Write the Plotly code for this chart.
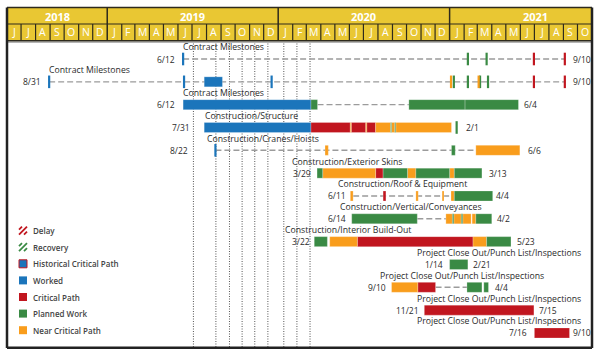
import plotly.graph_objects as go
from datetime import datetime

# ---------------- data ----------------
X_START = "2018-06-01"
X_END = "2021-11-01"

ROW_NAMES = [
    "Contract Milestones", "Contract Milestones", "Contract Milestones",
    "Construction/Structure", "Construction/Cranes/Hoists", "Construction/Exterior Skins",
    "Construction/Roof & Equipment", "Construction/Vertical/Conveyances",
    "Construction/Interior Build-Out",
    "Project Close Out/Punch List/Inspections", "Project Close Out/Punch List/Inspections",
    "Project Close Out/Punch List/Inspections", "Project Close Out/Punch List/Inspections",
]
START_LABELS = ["6/12", "8/31", "6/12", "7/31", "8/22", "3/29", "6/11", "6/14", "3/22",
                "1/14", "9/10", "11/21", "7/16"]
END_LABELS = ["9/10", "9/10", "6/4", "2/1", "6/6", "3/13", "4/4", "4/2", "5/23",
              "2/21", "4/4", "7/15", "9/10"]

# bar segments: (row, start, end)
WORKED = [
    (2, "2019-07-27", "2019-09-04"),
    (3, "2019-06-12", "2020-03-11"),
    (4, "2019-07-27", "2020-03-11"),
]
CRITICAL = [
    (4, "2020-03-11", "2020-06-03"),
    (4, "2020-06-05", "2020-07-06"),
    (4, "2020-07-08", "2020-07-27"),
    (6, "2020-07-27", "2020-08-12"),
    (7, "2020-08-12", "2020-08-18"),
    (9, "2020-06-18", "2021-02-20"),
    (11, "2020-10-25", "2020-12-02"),
    (12, "2020-11-08", "2021-06-30"),
    (13, "2021-07-01", "2021-09-14"),
]
NEAR_CRITICAL = [
    (4, "2020-06-03", "2020-06-05"),
    (4, "2020-07-06", "2020-07-08"),
    (4, "2020-07-27", "2020-08-28"),
    (4, "2020-08-30", "2020-09-06"),
    (4, "2020-09-08", "2021-01-05"),
    (5, "2020-04-10", "2020-04-17"),
    (5, "2021-02-26", "2021-05-31"),
    (6, "2020-04-05", "2020-07-27"),
    (6, "2020-10-03", "2020-10-21"),
    (6, "2021-01-01", "2021-01-11"),
    (7, "2020-06-03", "2020-06-09"),
    (7, "2020-10-21", "2020-10-26"),
    (7, "2020-12-16", "2020-12-20"),
    (7, "2021-01-04", "2021-01-11"),
    (8, "2020-12-24", "2021-01-07"),
    (8, "2021-01-10", "2021-01-26"),
    (8, "2021-01-29", "2021-02-16"),
    (8, "2021-02-18", "2021-02-26"),
    (9, "2020-04-20", "2020-06-18"),
    (9, "2021-02-20", "2021-03-21"),
    (11, "2020-08-30", "2020-10-25"),
]
PLANNED = [
    (3, "2020-03-11", "2020-03-25"),
    (3, "2020-10-06", "2021-02-03"),
    (3, "2021-02-03", "2021-05-28"),
    (4, "2020-08-28", "2020-08-30"),
    (4, "2020-09-06", "2020-09-08"),
    (5, "2021-01-05", "2021-01-13"),
    (6, "2020-03-24", "2020-04-05"),
    (6, "2020-08-12", "2020-10-03"),
    (6, "2020-10-21", "2021-01-01"),
    (6, "2021-01-11", "2021-03-11"),
    (7, "2021-01-11", "2021-04-03"),
    (8, "2020-06-06", "2020-10-24"),
    (8, "2021-01-07", "2021-01-10"),
    (8, "2021-01-26", "2021-01-29"),
    (8, "2021-02-26", "2021-04-01"),
    (9, "2020-03-18", "2020-04-15"),
    (9, "2021-03-21", "2021-05-12"),
    (10, "2021-01-01", "2021-02-09"),
    (11, "2021-02-07", "2021-03-11"),
    (11, "2021-03-15", "2021-03-25"),
]

# milestones: (row, date)
MS_WORKED = [(1, "2019-06-12"), (2, "2018-08-30"), (2, "2019-06-14"), (2, "2019-12-18"), (5, "2019-08-20")]
MS_PLANNED = [(1, "2021-02-09"), (1, "2021-03-21"), (2, "2021-01-10"), (2, "2021-02-09"),
              (2, "2021-03-07"), (2, "2021-03-24"), (4, "2021-01-16")]
MS_NEAR = [(2, "2021-01-04"), (2, "2021-03-04")]
MS_CRITICAL = [(1, "2021-06-30"), (1, "2021-09-04"), (2, "2021-06-30"), (2, "2021-09-04")]

# dashed links: (row, from, to)
LINKS = [
    (1, "2019-06-12", "2021-09-04"),
    (2, "2018-08-30", "2021-09-04"),
    (3, "2020-03-25", "2020-10-06"),
    (5, "2019-08-20", "2021-02-26"),
    (7, "2020-06-09", "2021-01-04"),
    (8, "2020-10-24", "2020-12-24"),
    (11, "2020-12-02", "2021-02-07"),
]

UPDATE_DATES = ["2019-07-04", "2019-08-21", "2019-09-19", "2019-10-16", "2019-11-12",
                "2019-12-10", "2020-01-13", "2020-02-10", "2020-03-09"]

LEGEND_NAMES = ["Delay", "Recovery", "Historical Critical Path", "Worked",
                "Critical Path", "Planned Work", "Near Critical Path"]
MONTH_LETTERS = ["J", "F", "M", "A", "M", "J", "J", "A", "S", "O", "N", "D"]
YEARS = [2018, 2019, 2020, 2021]

# ---------------- layout helpers ----------------
W, H = 600, 353
ML, MR, MT, MB = 7, 8, 7, 5
PW = W - ML - MR
PH = H - MT - MB


def px(x):
    return (x - ML) / PW


def py(y):
    return (H - MB - y) / PH


ROW0_PX = 59.0
ROW_STEP = 22.83
Y_TOP = 1 + (MT - ROW0_PX) / ROW_STEP
Y_BOT = 1 + (H - MB - ROW0_PX) / ROW_STEP
BAR_W = 10 / ROW_STEP

BLUE = "#1b75bb"
RED = "#c1161f"
GREEN = "#3a8a44"
ORANGE = "#f99d1c"
YELLOW = "#e9c733"
DARK = "#2e2a1c"
TXT = "#2b2b2b"
FONT = "Open Sans"

# label pixel anchors (layout only)
START_LABEL_PX = [175, 40.7, 175, 190, 188.3, 311, 345.7, 346, 310, 443.3, 386, 419.3, 526.7]
END_LABEL_PX = [572.7, 572.7, 524.3, 466, 527.7, 489.3, 495.5, 496.7, 516.7, 473.3, 495, 539.3, 573.3]
TITLE_PX = [183.3, 49, 183.3, 204.7, 207.3, 291.7, 338.3, 340, 285, 416.7, 380, 416.7, 416.7]

fig = go.Figure()


def dt(s):
    return datetime.strptime(s, "%Y-%m-%d")


shapes = []
ann = []

# update (data date) dotted lines
for d in UPDATE_DATES:
    shapes.append(dict(type="line", xref="x", yref="paper", x0=d, x1=d, y0=py(347), y1=py(42),
                       line=dict(color="#555555", width=1, dash="1px,1.5px"), layer="below"))

# dashed links (below the bars)
for r, a, b in LINKS:
    shapes.append(dict(type="line", xref="x", yref="y", x0=a, x1=b, y0=r, y1=r,
                       line=dict(color="#9b9b9b", width=1.4, dash="6px,3px"), layer="below"))


def add_bars(segs, color, name):
    fig.add_trace(go.Bar(
        orientation="h",
        y=[r for r, _, _ in segs],
        base=[s for _, s, _ in segs],
        x=[(dt(e) - dt(s)).total_seconds() * 1000 for _, s, e in segs],
        width=BAR_W,
        marker=dict(color=color, line=dict(color="rgba(255,255,255,0.4)", width=0.6)),
        name=name, showlegend=False, hoverinfo="skip"))


add_bars(WORKED, BLUE, "Worked")
add_bars(CRITICAL, RED, "Critical Path")
add_bars(NEAR_CRITICAL, ORANGE, "Near Critical Path")
add_bars(PLANNED, GREEN, "Planned Work")


def add_ms(ms, color, name):
    fig.add_trace(go.Scatter(
        x=[d for _, d in ms], y=[r for r, _ in ms], mode="markers",
        marker=dict(symbol="line-ns", size=9, line=dict(color=color, width=2.2)),
        name=name, showlegend=False, hoverinfo="skip"))


add_ms(MS_WORKED, BLUE, "Worked")
add_ms(MS_PLANNED, GREEN, "Planned Work")
add_ms(MS_NEAR, ORANGE, "Near Critical Path")
add_ms(MS_CRITICAL, RED, "Critical Path")

# header
H_TOP, H_MID, H_BOT = 7.5, 24, 40.7
shapes.append(dict(type="rect", xref="paper", yref="paper", x0=0, x1=1, y0=py(H_BOT), y1=py(H_TOP),
                   fillcolor=YELLOW, line=dict(width=0), layer="above"))
shapes.append(dict(type="line", xref="paper", yref="paper", x0=0, x1=1, y0=py(42.3), y1=py(42.3),
                   line=dict(color="#b5b5b5", width=1.5)))
for yy, wdt in [(H_TOP, 1.5), (H_MID, 1.2), (H_BOT, 1.5)]:
    shapes.append(dict(type="line", xref="paper", yref="paper", x0=0, x1=1, y0=py(yy), y1=py(yy),
                       line=dict(color=DARK, width=wdt)))

# months
months = []
y0, m0 = 2018, 6
while (y0, m0) < (2021, 11):
    months.append((y0, m0))
    m0 += 1
    if m0 == 13:
        m0, y0 = 1, y0 + 1
for (yy, mm) in months:
    start = f"{yy}-{mm:02d}-01"
    ny, nm = (yy + 1, 1) if mm == 12 else (yy, mm + 1)
    end = f"{ny}-{nm:02d}-01"
    mid = dt(start) + (dt(end) - dt(start)) / 2
    if mm == 1:
        shapes.append(dict(type="line", xref="x", yref="paper", x0=start, x1=start,
                           y0=py(H_BOT), y1=py(H_TOP), line=dict(color=DARK, width=1.5)))
    else:
        shapes.append(dict(type="line", xref="x", yref="paper", x0=start, x1=start,
                           y0=py(H_BOT), y1=py(H_MID), line=dict(color=DARK, width=1.2)))
    ann.append(dict(xref="x", yref="paper", x=mid.strftime("%Y-%m-%d %H:%M"), y=py((H_MID + H_BOT) / 2),
                    text=MONTH_LETTERS[mm - 1], showarrow=False,
                    font=dict(family=FONT, size=10.5, color="white"), xanchor="center", yanchor="middle"))

for yr in YEARS:
    a = max(dt(f"{yr}-01-01"), dt(X_START))
    b = dt(f"{yr + 1}-01-01")
    mid = a + (b - a) / 2
    ann.append(dict(xref="x", yref="paper", x=mid.strftime("%Y-%m-%d %H:%M"), y=py((H_TOP + H_MID) / 2 + 0.5),
                    text=str(yr), showarrow=False,
                    font=dict(family=FONT, size=11, color="white", weight="bold"),
                    xanchor="center", yanchor="middle"))

# frame
shapes.append(dict(type="line", xref="paper", yref="paper", x0=0, x1=0, y0=py(348), y1=py(H_TOP),
                   line=dict(color="#222222", width=2.5)))
shapes.append(dict(type="line", xref="paper", yref="paper", x0=1, x1=1, y0=py(348), y1=py(H_TOP),
                   line=dict(color="#222222", width=2.5)))
shapes.append(dict(type="line", xref="paper", yref="paper", x0=0, x1=1, y0=py(347.8), y1=py(347.8),
                   line=dict(color="#222222", width=2.5)))

# row labels
for i in range(13):
    r = i + 1
    ann.append(dict(xref="paper", yref="y", x=px(TITLE_PX[i]), y=r, yshift=11.6, text=ROW_NAMES[i],
                    showarrow=False, xanchor="left", yanchor="middle", borderpad=0, borderwidth=0,
                    font=dict(family=FONT, size=8.7, color=TXT)))
    ann.append(dict(xref="paper", yref="y", x=px(START_LABEL_PX[i]), y=r, text=START_LABELS[i],
                    showarrow=False, xanchor="right", yanchor="middle", borderpad=0, borderwidth=0,
                    font=dict(family=FONT, size=8.5, color=TXT)))
    ann.append(dict(xref="paper", yref="y", x=px(END_LABEL_PX[i]), y=r, text=END_LABELS[i],
                    showarrow=False, xanchor="left", yanchor="middle", borderpad=0, borderwidth=0,
                    font=dict(family=FONT, size=8.5, color=TXT)))

# legend (drawn)
LEG_Y0, LEG_STEP = 230.6, 16.6
IX0, IX1 = 19, 27
leg_fill = [None, None, BLUE, BLUE, RED, GREEN, ORANGE]
for i, name in enumerate(LEGEND_NAMES):
    yc = LEG_Y0 + i * LEG_STEP
    if i < 2:
        c = RED if i == 0 else GREEN
        for (xa, ya, xb, yb) in [(IX0, yc - 1, IX0 + 3, yc - 4), (IX0, yc + 4, IX1, yc - 4),
                                 (IX1 - 3, yc + 4, IX1, yc + 1)]:
            shapes.append(dict(type="line", xref="paper", yref="paper", x0=px(xa), y0=py(ya),
                               x1=px(xb), y1=py(yb), line=dict(color=c, width=1.8)))
    else:
        border = RED if i == 2 else leg_fill[i]
        shapes.append(dict(type="rect", xref="paper", yref="paper", x0=px(IX0), x1=px(IX1),
                           y0=py(yc + 4), y1=py(yc - 4), fillcolor=leg_fill[i],
                           line=dict(color=border, width=1 if i == 2 else 0)))
    ann.append(dict(xref="paper", yref="paper", x=px(32.5), y=py(yc), text=name, showarrow=False,
                    xanchor="left", yanchor="middle", borderpad=0, borderwidth=0,
                    font=dict(family=FONT, size=8, color="#444444", weight=600)))

fig.update_layout(
    width=W, height=H,
    margin=dict(l=ML, r=MR, t=MT, b=MB, pad=0),
    paper_bgcolor="white", plot_bgcolor="white",
    barmode="overlay",
    showlegend=False,
    xaxis=dict(type="date", range=[X_START, X_END], visible=False, showgrid=False, zeroline=False,
               fixedrange=True),
    yaxis=dict(range=[Y_BOT, Y_TOP], visible=False, showgrid=False, zeroline=False, fixedrange=True),
    shapes=shapes, annotations=ann,
)

fig.write_html("out.html")
